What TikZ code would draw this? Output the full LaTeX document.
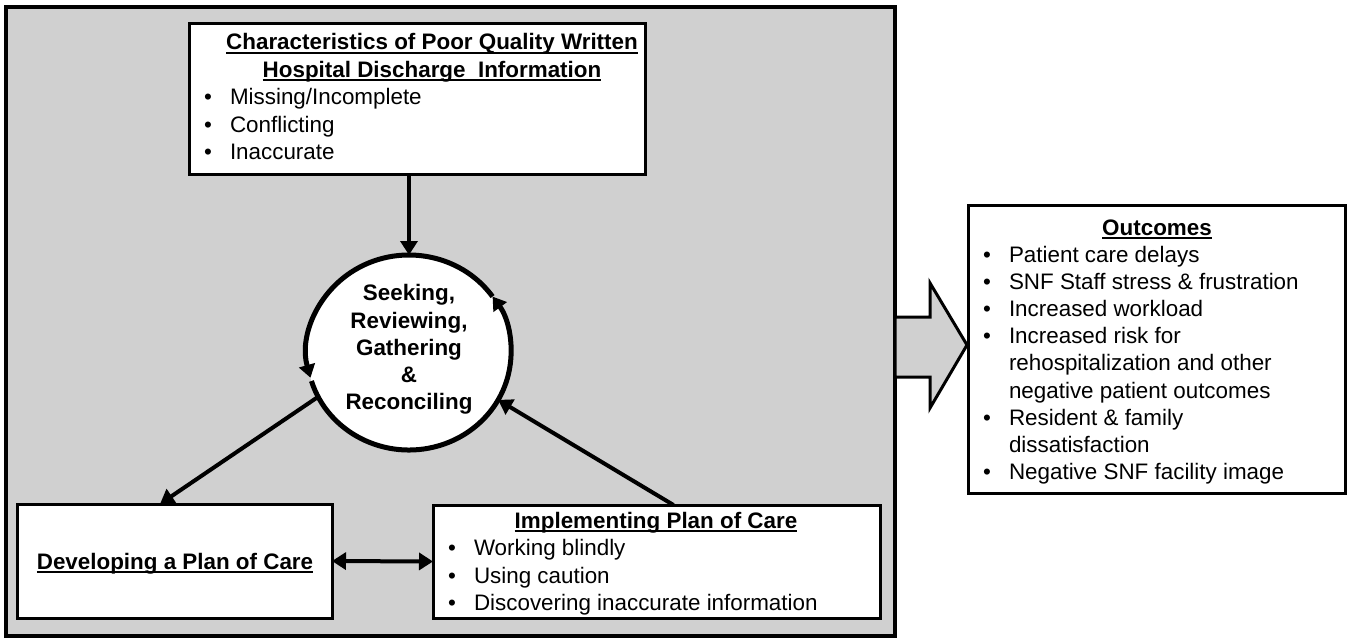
\documentclass[tikz,border=0pt]{standalone}
\usepackage{fontspec}
\setmainfont{Liberation Sans}
\usetikzlibrary{arrows.meta,shapes.geometric}
\definecolor{panelgray}{RGB}{208,208,208}
\newcommand\myul[1]{\setbox0=\hbox{#1}\rlap{\vrule height -2.3pt depth 4.3pt width \wd0}\box0}
\begin{document}
\begin{tikzpicture}[x=1pt,y=1pt,
  font=\fontsize{22.4}{27}\selectfont,
  every node/.style={inner sep=0,outer sep=0},
  box/.style={draw,line width=3pt,fill=white,anchor=north west},
  ln/.style={anchor=base west},
  ttl/.style={anchor=base,font=\fontsize{22.4}{27}\selectfont\bfseries},
  bul/.style={anchor=base},
  arr/.style={line width=4pt,-{Triangle[length=14pt,width=17pt]}},
  darr/.style={line width=4pt,{Triangle[length=14pt,width=17pt]}-{Triangle[length=14pt,width=17pt]}},
  carr/.style={line width=5pt,-{Triangle[length=13pt,width=16pt]}}]
\useasboundingbox (0,0) rectangle (1350,-641);
\node[draw,line width=4pt,fill=panelgray,anchor=north west,minimum width=889,minimum height=629] (frame) at (6,-7) {};

% top box
\node[box,minimum width=455.5,minimum height=151] (top) at (189.5,-23) {};
\node[ttl] (t1) at (432,-49.5) {\myul{Characteristics of Poor Quality Written}};
\node[ttl] (t2) at (432,-77) {\myul{Hospital Discharge\ \ Information}};
\foreach \s [count=\i] in {Missing/Incomplete,Conflicting,Inaccurate}{
  \node[bul] (tb\i) at (208,{-104.5-27.5*(\i-1)}) {\textbullet};
  \node[ln] (tl\i) at (230,{-104.5-27.5*(\i-1)}) {\s};
}

% central ellipse
\node[ellipse,fill=white,minimum width=204,minimum height=195] (c) at (409,-352.5) {};
\foreach \s [count=\i] in {{Seeking,},{Reviewing,},Gathering,\&,Reconciling}{
  \node[ttl] (ct\i) at (409,{-300.7-27.3*(\i-1)}) {\s};
}
\draw[carr] ([shift={(197:102 and 97.5)}]c.center) arc[start angle=197,end angle=395,x radius=102,y radius=97.5];
\draw[carr] ([shift={(35:102 and 97.5)}]c.center) arc[start angle=35,end angle=195,x radius=102,y radius=97.5];

% developing box
\node[box,minimum width=315,minimum height=114] (dev) at (17,-504) {};
\node[ttl] (dt) at (175,-569) {\myul{Developing a Plan of Care}};

% implementing box
\node[box,minimum width=447,minimum height=113] (imp) at (433,-505) {};
\node[ttl] (it) at (656,-528) {\myul{Implementing Plan of Care}};
\foreach \s [count=\i] in {Working blindly,Using caution,Discovering inaccurate information}{
  \node[bul] (ib\i) at (452,{-555.5-27.5*(\i-1)}) {\textbullet};
  \node[ln] (il\i) at (474,{-555.5-27.5*(\i-1)}) {\s};
}

% outcomes box
\node[box,minimum width=376.5,minimum height=287.5] (out) at (968.5,-205.5) {};
\node[ttl] (ot) at (1157,-235) {\myul{Outcomes}};
\foreach \s/\b [count=\i] in {Patient care delays/1,SNF Staff stress \& frustration/1,Increased workload/1,Increased risk for/1,rehospitalization and other/0,negative patient outcomes/0,Resident \& family/1,dissatisfaction/0,Negative SNF facility image/1}{
  \ifnum\b=1 \node[bul] (obul\i) at (987,{-262-27.2*(\i-1)}) {\textbullet};\fi
  \node[ln] (ol\i) at (1009,{-262-27.2*(\i-1)}) {\s};
}

% connectors
\draw[arr] (top.south -| c.north) -- (c.north);
\draw[arr] (c.206) -- ([xshift=-14.5pt]dev.north);
\draw[arr] ([xshift=17pt]imp.north) -- (c.-28);
\draw[darr] (dev.east) -- (imp.west);

% big block arrow
\draw[line width=3pt,fill=panelgray,line join=miter] (895,-317) -- (930,-317) -- (930,-283) -- (967,-345) -- (930,-408) -- (930,-377) -- (895,-377) -- cycle;
\end{tikzpicture}
\end{document}
